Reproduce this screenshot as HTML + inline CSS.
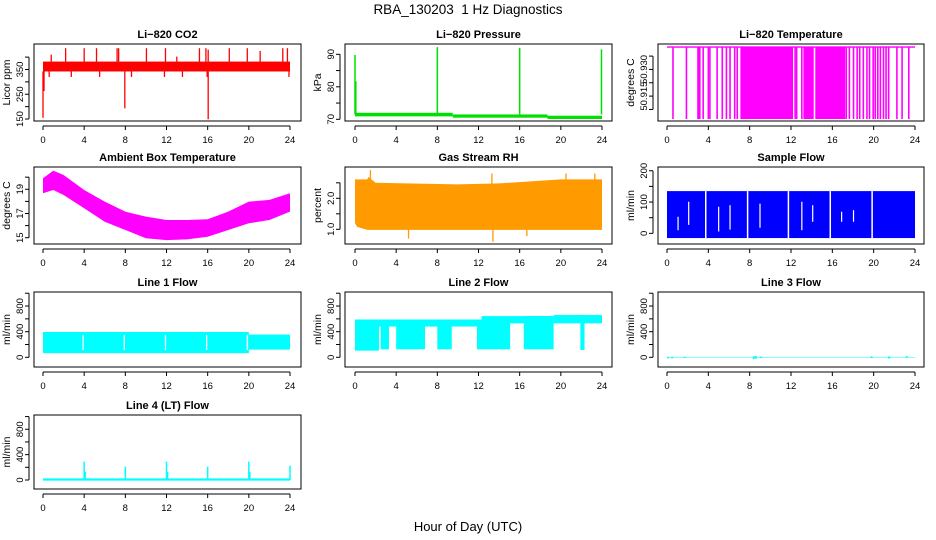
<!DOCTYPE html>
<html><head><meta charset="utf-8"><style>
html,body{margin:0;padding:0;background:#fff}
svg{display:block;font-family:"Liberation Sans",sans-serif}
</style></head><body>
<svg id="s" width="936" height="540" viewBox="0 0 936 540" xmlns="http://www.w3.org/2000/svg">
<text x="468" y="14" text-anchor="middle" font-size="13.5" style="white-space:pre">RBA_130203  1 Hz Diagnostics</text>
<text x="468" y="531" text-anchor="middle" font-size="13">Hour of Day (UTC)</text>
</svg>
<script>
// ---- data ----
const hourTicks=[0,4,8,12,16,20,24];
// CO2
const co2BandLo=342, co2BandHi=382;
const co2SpikeHours=[0.8,2.2,4.0,5.2,7.2,7.35,10.05,11.9,13.0,15.2,15.83,16.05,18.1,19.85,21.1,23.3,23.75];
const co2SpikeTops=[410,436,436,436,436,436,436,436,402,436,436,430,436,436,425,436,436];
const co2DipHours=[0.0,0.1,7.95,16.05,0.6,2.75,5.5,8.6,11.8,13.55,15.95,23.9];
const co2DipBottoms=[155,263,193,149,320,320,320,320,320,320,320,320];
// Pressure
const presSegStart=[0,9.5,18.7], presSegEnd=[9.5,18.7,24];
const presSegLo=[70.9,70.5,70.1], presSegHi=[72.0,71.5,71.1];
const presSpikeHours=[0.0,0.08,8.0,16.0,23.95];
const presSpikeTops=[89.8,81.7,92.2,92.0,91.5];
// Li-820 temperature
const tempTop=50.9426, tempBottom=50.9021;
const tempSpikeHours=[0.58,1.88,3.0,3.5,4.0,4.15,4.85,5.35,5.75,6.1,6.55,6.8,12.4,12.55,13.05,17.35,17.65,18.05,18.4,18.65,19.0,19.35,19.6,19.95,20.15,20.4,20.65,20.95,21.2,21.45,22.25,22.75,23.4];
const tempFillStart=[3.05,7.1,13.2,14.35], tempFillEnd=[3.25,12.2,14.2,17.25];
// Ambient box temperature
const ambHours=[0,1,2,4,6,8,10,12,14,16,18,20,22,24];
const ambHi=[19.91,20.54,20.18,18.94,17.98,17.15,16.74,16.46,16.46,16.52,17.15,17.98,18.12,18.67];
const ambLo=[18.67,18.94,18.53,17.43,16.32,15.64,14.95,14.8,14.86,15.08,15.64,16.19,16.46,17.15];
// Gas stream RH
const rhHours=[0,0.2,1.2,1.3,2,10,14,20,22,24];
const rhHi=[2.61,2.61,2.61,2.69,2.5,2.45,2.48,2.61,2.61,2.61];
const rhLo=[1.2,1.08,0.98,0.98,0.98,0.98,0.98,0.98,0.98,0.98];
const rhSpikeHours=[1.5,13.3,20.5,23.3,5.2,13.4,16.7];
const rhSpikeVals=[2.91,2.8,2.8,2.8,0.7,0.6,0.78];
// Sample flow
const sfLo=-15, sfHi=135;
const sfGapHours=[3.75,7.8,11.75,15.8,19.85];
const sfPartHours=[1.07,2.1,5.0,6.1,9.0,13.05,14.1,16.9,18.05];
const sfPartLo=[10,27,6,12,18,10,37,37,37];
const sfPartHi=[53,101,85,90,95,101,90,69,74];
// Line 1
const l1SegStart=[0,20], l1SegEnd=[20,24], l1SegLo=[65,120], l1SegHi=[395,355];
const l1GapHours=[3.9,7.9,11.9,15.9,19.85];
// Line 2
const l2BandStart=[0,12.3,19.3], l2BandEnd=[12.3,19.3,24], l2BandLo=[480,530,530], l2BandHi=[590,643,660];
const l2FillStart=[0,2.5,4.0,8.0,11.85,16.4,21.9], l2FillEnd=[2.33,3.3,6.8,9.4,15.07,19.3,22.3];
const l2FillLo=[104,125,125,125,125,125,114];
// Line 3
const l3MarkHours=[0.1,0.5,1.7,8.4,8.6,9.1,19.8,21.5,23.2];
const l3MarkLo=[-15,-15,-10,-25,-20,-10,-10,-20,-5];
const l3MarkHi=[10,10,10,15,20,10,15,15,20];
// Line 4
const l4SpikeHours=[4.0,4.1,8.0,12.0,12.1,16.0,20.0,20.1,24.0];
const l4SpikeVals=[290,130,210,290,130,210,290,130,225];

// ---- layout ----
const NS="http://www.w3.org/2000/svg", svg=document.getElementById('s');
const COLS=[{bx0:34,bx1:301,h0:43,h24:290},{bx0:345,bx1:612,h0:355,h24:602},{bx0:658,bx1:924,h0:667,h24:915}];
const ROWS=[{by0:44,by1:121},{by0:167,by1:244},{by0:292,by1:367},{by0:415,by1:489}];
function mk(tag,attrs,parent){const e=document.createElementNS(NS,tag);for(const k in attrs)e.setAttribute(k,attrs[k]);(parent||svg).appendChild(e);return e;}
let clipId=0;
function panel(name,title,ylab,col,row,ylo,yhi,ticks,labels){
  const C=COLS[col],R=ROWS[row];
  const g=mk('g',{});
  
  
  const sx=h=>C.h0+(h/24)*(C.h24-C.h0);
  const sy=v=>R.by1-(v-ylo)/(yhi-ylo)*(R.by1-R.by0);
  const id='c'+(clipId++);
  const cp=mk('clipPath',{id:id},g);mk('rect',{x:C.bx0,y:R.by0,width:C.bx1-C.bx0,height:R.by1-R.by0},cp);
  const plot=mk('g',{'clip-path':'url(#'+id+')'},g);
  
  
  const t=mk('text',{x:(C.bx0+C.bx1)/2,y:R.by0-6,'text-anchor':'middle','font-size':11,'font-weight':'bold'},g);t.textContent=title;
  
  
  mk('rect',{x:C.bx0,y:R.by0,width:C.bx1-C.bx0,height:R.by1-R.by0,fill:'none',stroke:'#000','stroke-width':1},g);
  const xa=mk('g',{},g);
  
  
  const ay=R.by1+5;
  mk('line',{x1:sx(0),x2:sx(24),y1:ay,y2:ay,stroke:'#000'},xa);
  hourTicks.forEach(h=>{mk('line',{x1:sx(h),x2:sx(h),y1:ay,y2:ay+4,stroke:'#000'},xa);
    const tl=mk('text',{x:sx(h),y:ay+17,'text-anchor':'middle','font-size':9.5},xa);tl.textContent=h;});
  const ya=mk('g',{},g);
  
  
  const ax=C.bx0-5;
  mk('line',{x1:ax,x2:ax,y1:sy(ticks[0]),y2:sy(ticks[ticks.length-1]),stroke:'#000'},ya);
  ticks.forEach((v,i)=>{mk('line',{x1:ax-4,x2:ax,y1:sy(v),y2:sy(v),stroke:'#000'},ya);
    if(labels[i]!==''){const tl=mk('text',{x:0,y:0,'text-anchor':'middle','font-size':9.5,transform:'translate('+(C.bx0-11)+','+sy(v)+') rotate(-90)'},ya);tl.textContent=labels[i];}});
  const yl=mk('text',{'text-anchor':'middle','font-size':10.5,transform:'translate('+(C.bx0-24)+','+((R.by0+R.by1)/2)+') rotate(-90)'},g);yl.textContent=ylab;
  
  
  return {g:plot,sx,sy};
}
function vbar(P,h,v1,v2,color,w){const a=P.sy(v1),b=P.sy(v2);return mk('rect',{x:P.sx(h)-(w||1)/2,y:Math.min(a,b),width:w||1,height:Math.abs(a-b),fill:color},P.g);}
function box(P,h1,h2,v1,v2,color){const a=P.sy(v1),b=P.sy(v2);return mk('rect',{x:P.sx(h1),y:Math.min(a,b),width:P.sx(h2)-P.sx(h1),height:Math.abs(a-b),fill:color},P.g);}
function band(P,hs,lo,hi,fill){let pts=hs.map((h,i)=>P.sx(h)+','+P.sy(hi[i]));for(let i=hs.length-1;i>=0;i--)pts.push(P.sx(hs[i])+','+P.sy(lo[i]));return mk('polygon',{points:pts.join(' '),fill:fill},P.g);}

let P=panel('co2','Li\u2212820 CO2','Licor ppm',0,0,142,453,[150,200,250,300,350,400],['150','','250','','350','']);
let e=box(P,0,24,co2BandLo,co2BandHi,'#ff0000');
co2SpikeHours.forEach((h,i)=>{const r=vbar(P,h,co2BandHi,co2SpikeTops[i],'#ff0000',1.3);});
co2DipHours.forEach((h,i)=>{const r=vbar(P,h,co2BandLo,co2DipBottoms[i],'#ff0000',1.3);});

P=panel('pressure','Li\u2212820 Pressure','kPa',1,0,69.48,93.17,[70,75,80,85,90],['70','','80','','90']);
presSegStart.forEach((s,i)=>{const r=box(P,s,presSegEnd[i],presSegLo[i],presSegHi[i],'#00e000');});
presSpikeHours.forEach((h,i)=>{const r=vbar(P,h,71.5,presSpikeTops[i],'#00e000',1.5);});

P=panel('li820-temp','Li\u2212820 Temperature','degrees C',2,0,50.901,50.9443,[50.9075,50.915,50.9225,50.93,50.9375],['','50.915','','50.930','']);
e=box(P,0,24,tempTop-0.0004,tempTop+0.0004,'#ff00ff');
tempSpikeHours.forEach(h=>{const r=vbar(P,h,tempBottom,tempTop,'#ff00ff',1.6);});
tempFillStart.forEach((s,i)=>{const r=box(P,s,tempFillEnd[i],tempBottom,tempTop,'#ff00ff');});

P=panel('ambient-temp','Ambient Box Temperature','degrees C',0,1,14.48,20.84,[15,16,17,18,19,20],['15','','17','','19','']);
e=band(P,ambHours,ambLo,ambHi,'#ff00ff');

P=panel('gas-rh','Gas Stream RH','percent',1,1,0.526,3.01,[1.0,1.5,2.0,2.5],['1.0','','2.0','']);
e=band(P,rhHours,rhLo,rhHi,'#ff9a00');
rhSpikeHours.forEach((h,i)=>{const r=vbar(P,h,1.8,rhSpikeVals[i],'#ff9a00',1.3);});

P=panel('sample-flow','Sample Flow','ml/min',2,1,-34,212,[0,50,100,150,200],['0','','100','','200']);
e=box(P,0,24,sfLo,sfHi,'#0000ff');
sfGapHours.forEach(h=>{const r=vbar(P,h,sfLo,sfHi,'#fff',1.5);});
sfPartHours.forEach((h,i)=>{const r=vbar(P,h,sfPartLo[i],sfPartHi[i],'#fff',1.2);});

const lt=[0,200,400,600,800,1000], ll=['0','','400','','800',''];
P=panel('line1-flow','Line 1 Flow','ml/min',0,2,-151,1019,lt,ll);
l1SegStart.forEach((s,i)=>{const r=box(P,s,l1SegEnd[i],l1SegLo[i],l1SegHi[i],'#00ffff');});
l1GapHours.forEach(h=>{const r=vbar(P,h,115,350,'#fff',1.3);});
P=panel('line2-flow','Line 2 Flow','ml/min',1,2,-151,1019,lt,ll);
l2BandStart.forEach((s,i)=>{const r=box(P,s,l2BandEnd[i],l2BandLo[i],l2BandHi[i],'#00ffff');});
l2FillStart.forEach((s,i)=>{const hi=s<12.3?590:(s<19.3?643:660);const r=box(P,s,l2FillEnd[i],l2FillLo[i],hi,'#00ffff');});
P=panel('line3-flow','Line 3 Flow','ml/min',2,2,-151,1019,lt,ll);
e=box(P,0,24,-4,4,'#00ffff');
l3MarkHours.forEach((h,i)=>{const r=vbar(P,h,l3MarkLo[i],l3MarkHi[i],'#00ffff',2);});
P=panel('line4-flow','Line 4 (LT) Flow','ml/min',0,3,-142,1025,lt,ll);
e=box(P,0,24,-10,25,'#00ffff');
l4SpikeHours.forEach((h,i)=>{const r=vbar(P,h,0,l4SpikeVals[i],'#00ffff',1.5);});
</script>
</body></html>
